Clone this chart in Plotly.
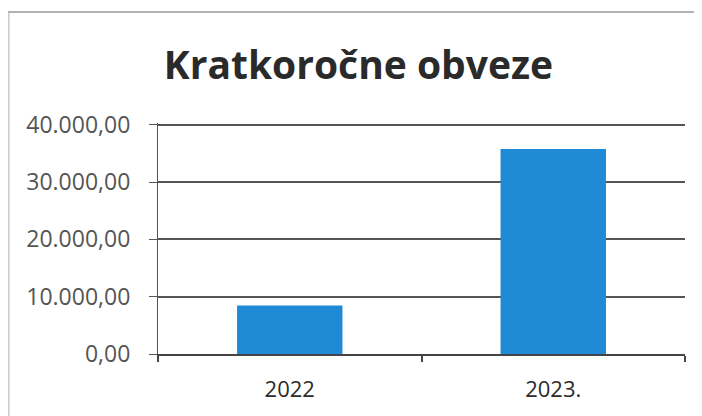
import plotly.graph_objects as go

categories = ["2022", "2023."]
values = [8450, 35750]
y_ticks = [0, 10000, 20000, 30000, 40000]
title_text = "Kratkoročne obveze"

fig = go.Figure(go.Bar(
    x=categories, y=values,
    marker=dict(color="#1f8ad5", line=dict(width=0)),
    width=0.4,
))

fig.update_layout(
    width=694, height=408,
    margin=dict(l=150, r=17, t=115, b=62),
    paper_bgcolor="white", plot_bgcolor="white",
    separators=",.",
    showlegend=False,
    title=dict(text=title_text, x=0.505, xanchor="center", y=0.86, yanchor="middle",
               font=dict(family="Open Sans", size=39, color="#2a2a2a", weight="bold")),
    xaxis=dict(
        type="category", showgrid=False, showline=True, linecolor="#444", linewidth=1.5,
        ticks="outside", tickson="boundaries", ticklen=6, tickcolor="#444", tickwidth=1.5,
        tickfont=dict(family="Open Sans", size=22, color="#2a2a2a"),
        ticklabelstandoff=15,
        range=[-0.5, 1.5],
    ),
    yaxis=dict(
        range=[0, 40300], tickvals=y_ticks, tickformat=",.2f",
        showgrid=True, gridcolor="#555", gridwidth=1.5,
        showline=True, linecolor="#555", linewidth=1.2,
        ticks="outside", ticklen=8, tickcolor="#555", tickwidth=1.2,
        tickfont=dict(family="Open Sans", size=23, color="#555"),
        ticklabelstandoff=14,
        zeroline=False,
    ),
)

# faint scan frame
fig.add_shape(type="line", xref="paper", yref="paper", x0=-0.285, x1=1.04, y0=1.48, y1=1.48,
              line=dict(color="#999", width=1.5))
fig.add_shape(type="line", xref="paper", yref="paper", x0=-0.283, x1=-0.283, y0=-0.3, y1=1.48,
              line=dict(color="#bbb", width=1.2))

fig.write_html("out.html")
